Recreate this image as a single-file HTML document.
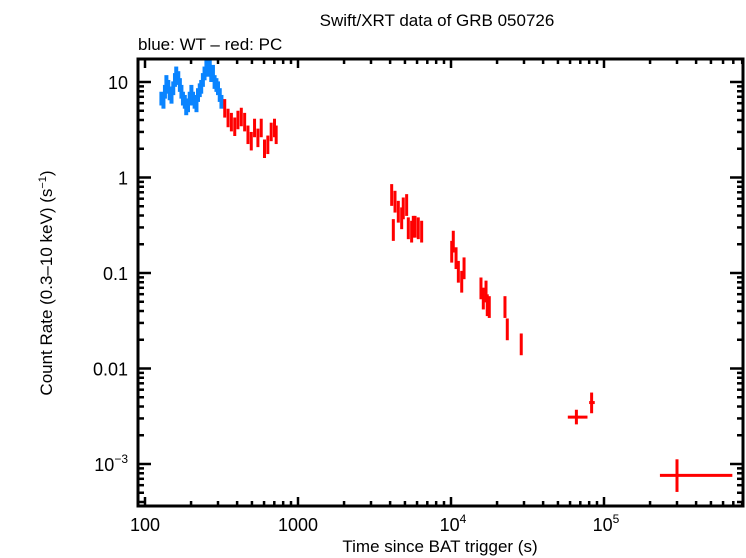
<!DOCTYPE html>
<html><head><meta charset="utf-8"><style>
html,body{margin:0;padding:0;background:#fff;}
svg{display:block;font-family:"Liberation Sans",sans-serif;}
</style></head><body>
<svg id="chart" width="746" height="558" viewBox="0 0 746 558" xmlns="http://www.w3.org/2000/svg">
<text x="437" y="26" font-size="17" text-anchor="middle">Swift/XRT data of GRB 050726</text>
<text x="138" y="50" font-size="17">blue: WT – red: PC</text>
<text transform="translate(52,283) rotate(-90)" font-size="17" text-anchor="middle">Count Rate (0.3–10 keV) (s<tspan dy="-6" font-size="11">−1</tspan><tspan dy="6">)</tspan></text>
<text x="440" y="552" font-size="17" text-anchor="middle">Time since BAT trigger (s)</text>
<g id="marks"></g>
<g id="axes"></g>
</svg>
<script>
const wtTime=[128,132,135,138,142,145,149,153,157,160,165,169,173,177,182,186,191,196,201,206,211,217,222,228,233,239,245,252,258,265,271,278,285,293,300,308,316];
const wtRate=[6.7,6.2,7.9,10,8.9,7.6,7.0,8.6,10.5,12.3,11,9.3,7.9,6.7,6.2,5.3,5.7,6.7,7.9,6.7,6.2,5.7,7.3,8.2,8.9,10.5,12.3,15,13.4,14.5,11.8,12.8,10,9.3,8.6,7.3,6.2];
const pcTime=[332,349,367,386,405,426,448,471,495,520,547,575,604,635,668,702,720,4095,4305,4198,4525,4760,4875,5130,5260,5530,5670,5820,6110,6430,10110,10350,10790,11170,11750,12170,15700,16260,16940,17260,17790,22530,23330,28780];
const pcRate=[5.3,4.2,3.8,3.4,4.0,4.3,3.8,2.8,2.4,3.3,2.6,3.3,2.0,2.2,3.0,3.3,2.8,0.656,0.558,0.282,0.438,0.374,0.475,0.515,0.294,0.271,0.305,0.305,0.294,0.271,0.167,0.213,0.143,0.103,0.081,0.112,0.069,0.054,0.064,0.046,0.044,0.044,0.0257,0.0179];
const lateTime=[66000,83000,300000];
const lateRate=[0.0031,0.0044,0.00076];
const lateTLo=[58000,80000,232000];
const lateTHi=[78000,87000,690000];
const lateRLo=[0.0026,0.0034,0.00051];
const lateRHi=[0.0037,0.0056,0.00112];
const xTickVals=[100,1000,10000,100000];
const xTickLabels=["100","1000","10^4","10^5"];
const yTickVals=[10,1,0.1,0.01,0.001];
const yTickLabels=["10","1","0.1","0.01","10^-3"];

const L=138,R=743,T=59,B=506;
const X=t=>145+153*(Math.log10(t)-2);
const Y=r=>82-95.5*(Math.log10(r)-1);
const NS="http://www.w3.org/2000/svg";
const marks=document.getElementById('marks'), axes=document.getElementById('axes');
function ln(p,x1,y1,x2,y2,c,w){const e=document.createElementNS(NS,'line');e.setAttribute('x1',x1);e.setAttribute('y1',y1);e.setAttribute('x2',x2);e.setAttribute('y2',y2);e.setAttribute('stroke',c);e.setAttribute('stroke-width',w);p.appendChild(e);return e;}
function pt(t,r,rel,dt,c,w){
  const g=document.createElementNS(NS,'g');
  
  
  ln(g,X(t),Y(r*(1+rel)),X(t),Y(r/(1+rel)),c,w);
  ln(g,X(t/dt),Y(r),X(t*dt),Y(r),c,2);
  marks.appendChild(g);
}
wtTime.forEach((t,i)=>pt(t,wtRate[i],0.18,1.012,'#0a84ff',4));
pcTime.forEach((t,i)=>pt(t,pcRate[i],t<1000?0.25:0.3,1.015,'#ff0000',3));
lateTime.forEach((t,i)=>{
  const g=document.createElementNS(NS,'g');
  
  
  ln(g,X(t),Y(lateRHi[i]),X(t),Y(lateRLo[i]),'#ff0000',3);
  ln(g,X(lateTLo[i]),Y(lateRate[i]),X(lateTHi[i]),Y(lateRate[i]),'#ff0000',3);
  marks.appendChild(g);
});
// frame
const f=document.createElementNS(NS,'rect');
f.setAttribute('x',L);f.setAttribute('y',T);f.setAttribute('width',R-L);f.setAttribute('height',B-T);
f.setAttribute('fill','none');f.setAttribute('stroke','#000');f.setAttribute('stroke-width',3);


axes.appendChild(f);
function label(x,y,s,anchor){
  const e=document.createElementNS(NS,'text');
  e.setAttribute('x',x);e.setAttribute('y',y);e.setAttribute('font-size','18');e.setAttribute('text-anchor',anchor);
  const m=s.match(/^10\^(.+)$/);
  if(m){e.textContent='10';const sp=document.createElementNS(NS,'tspan');sp.setAttribute('dy','-8');sp.setAttribute('font-size','12');sp.textContent=m[1].replace('-','−');e.appendChild(sp);}
  else e.textContent=s;
  
  
  axes.appendChild(e);
}
for(let d=2;d<=5;d++){for(let k=1;k<10;k++){const t=k*Math.pow(10,d);const x=X(t);if(x<L||x>R)continue;const len=k==1?9:5;ln(axes,x,B,x,B-len,'#000',2.5);ln(axes,x,T,x,T+len,'#000',2.5);}}
for(let d=-4;d<=1;d++){for(let k=1;k<10;k++){const r=k*Math.pow(10,d);const y=Y(r);if(y<T||y>B)continue;const len=k==1?13:6;ln(axes,L,y,L+len,y,'#000',2.5);ln(axes,R,y,R-len,y,'#000',2.5);}}
xTickVals.forEach((v,i)=>label(X(v)+(i>=2?2:0),531,xTickLabels[i],'middle'));
yTickVals.forEach((v,i)=>label(128,Y(v)+7,yTickLabels[i],'end'));
</script>
</body></html>
